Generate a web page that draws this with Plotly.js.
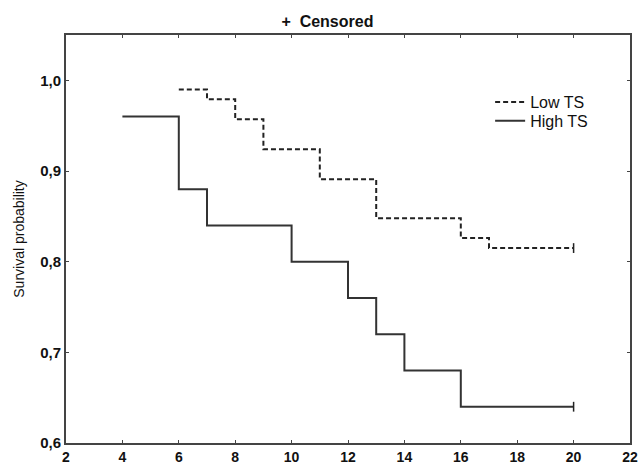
<!DOCTYPE html>
<html>
<head>
<meta charset="utf-8">
<script src="https://cdn.plot.ly/plotly-3.0.1.min.js"></script>
<style>html,body{margin:0;padding:0;background:#fff;}#chart{width:642px;height:467px;}</style>
</head>
<body>
<div id="chart"></div>
<script>
// Time (x) and survival probability (y) for each group
const lowTime = [6, 7, 8, 9, 11, 13, 16, 17, 20];
const lowSurv = [0.99, 0.979, 0.957, 0.924, 0.891, 0.848, 0.826, 0.815, 0.815];
const highTime = [4, 6, 7, 10, 12, 13, 14, 16, 20];
const highSurv = [0.96, 0.88, 0.84, 0.80, 0.76, 0.72, 0.68, 0.64, 0.64];
// Censored observations
const censTime = [20, 20];
const censSurv = [0.815, 0.64];
const xTicks = [2, 4, 6, 8, 10, 12, 14, 16, 18, 20, 22];
const yTicks = [0.6, 0.7, 0.8, 0.9, 1.0];

const ink = '#222';
const fam = 'Liberation Sans, Arial, sans-serif';
const traces = [
  {x: lowTime, y: lowSurv, type: 'scatter', mode: 'lines', name: 'Low TS', legend: 'legend',
   line: {shape: 'hv', dash: '5px,3px', color: ink, width: 2}},
  {x: highTime, y: highSurv, type: 'scatter', mode: 'lines', name: 'High TS', legend: 'legend2',
   line: {shape: 'hv', color: '#333', width: 2}},
  {x: censTime, y: censSurv, type: 'scatter', mode: 'markers', name: 'Censored', showlegend: false,
   marker: {symbol: 'line-ns-open', size: 7, color: ink, line: {color: ink, width: 1.5}}}
];

const axisCommon = {
  showgrid: false, zeroline: false, showline: true, mirror: 'ticks',
  linecolor: '#444', linewidth: 2, ticks: 'inside', ticklen: 3, tickwidth: 1, tickcolor: '#444',
  tickfont: {family: fam, size: 15, color: '#111', weight: 'bold'}
};
const legendCommon = {xanchor: 'left', yanchor: 'top', bgcolor: 'rgba(0,0,0,0)', itemwidth: 30,
  font: {family: fam, size: 16, color: '#111'}};

const layout = {
  width: 642, height: 467,
  margin: {l: 66, r: 12, t: 35, b: 24},
  paper_bgcolor: '#fff', plot_bgcolor: '#fff',
  separators: ',.',
  showlegend: true,
  title: {text: '+  Censored', x: 0.51, xref: 'container', y: 0.967, yref: 'container',
          font: {family: fam, size: 16, color: '#111', weight: 'bold'}},
  xaxis: Object.assign({}, axisCommon, {range: [2, 22], tickvals: xTicks, ticktext: xTicks.map(String),
    tickfont: {family: fam, size: 14, color: '#111', weight: 'bold'}}),
  yaxis: Object.assign({}, axisCommon, {range: [0.6, 1.05], tickvals: yTicks, tickformat: '.1f',
    title: {text: 'Survival probability', standoff: 12,
            font: {family: fam, size: 14, color: '#111'}}}),
  legend: Object.assign({}, legendCommon, {x: 0.752, y: 0.877}),
  legend2: Object.assign({}, legendCommon, {x: 0.752, y: 0.831})
};

Plotly.newPlot('chart', traces, layout, {displayModeBar: false, staticPlot: true});
</script>
</body>
</html>
